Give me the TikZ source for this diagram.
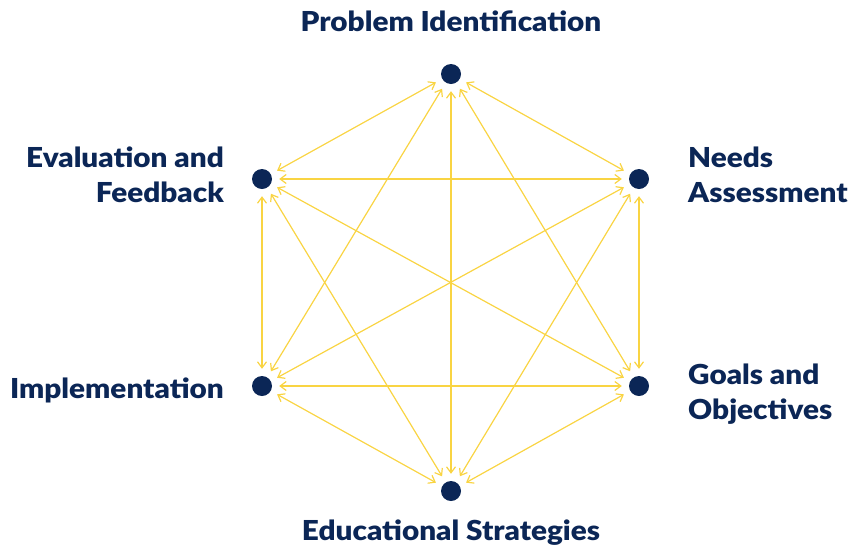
\documentclass[tikz,border=0pt]{standalone}
\usepackage{fontspec}
\setmainfont{Lato}[BoldFont={Lato Black},BoldFeatures={FakeStretch=1.08}]
\usetikzlibrary{arrows.meta}
\definecolor{navy}{HTML}{0B2656}
\definecolor{gold}{HTML}{F9D443}
\begin{document}
\begin{tikzpicture}[x=1pt,y=-1pt,
  dot/.style={circle,fill=navy,inner sep=0pt,minimum size=20pt},
  lbl/.style={text=navy,font=\fontsize{27.5}{35}\selectfont\bfseries,inner sep=0pt},
  link/.style={gold,line width=1.2pt,{Straight Barb[length=6pt,width=9pt]}-{Straight Barb[length=6pt,width=9pt]},shorten <=7pt,shorten >=7pt}]
\useasboundingbox (0,0) rectangle (849,547);
\node[dot] (P) at (451,74) {};
\node[dot] (N) at (639,179) {};
\node[dot] (G) at (639,386) {};
\node[dot] (E) at (451,491) {};
\node[dot] (I) at (262,386) {};
\node[dot] (F) at (262,179) {};
\foreach \a/\b in {P/N,P/G,P/E,P/I,P/F,N/G,N/E,N/I,N/F,G/E,G/I,G/F,E/I,E/F,I/F}
  \draw[link] (\a) -- (\b);
\node[lbl,anchor=base] (tP) at (451,31) {Problem Identification};
\node[lbl,anchor=base west,align=left] (tN) at (688,202) {Needs\\Assessment};
\node[lbl,anchor=base west,align=left] (tG) at (688,419) {Goals and\\Objectives};
\node[lbl,anchor=base] (tE) at (451,540) {Educational Strategies};
\node[lbl,anchor=base east] (tI) at (224,398) {Implementation};
\node[lbl,anchor=base east,align=right] (tF) at (224,202) {Evaluation and\\Feedback};
\end{tikzpicture}
\end{document}
